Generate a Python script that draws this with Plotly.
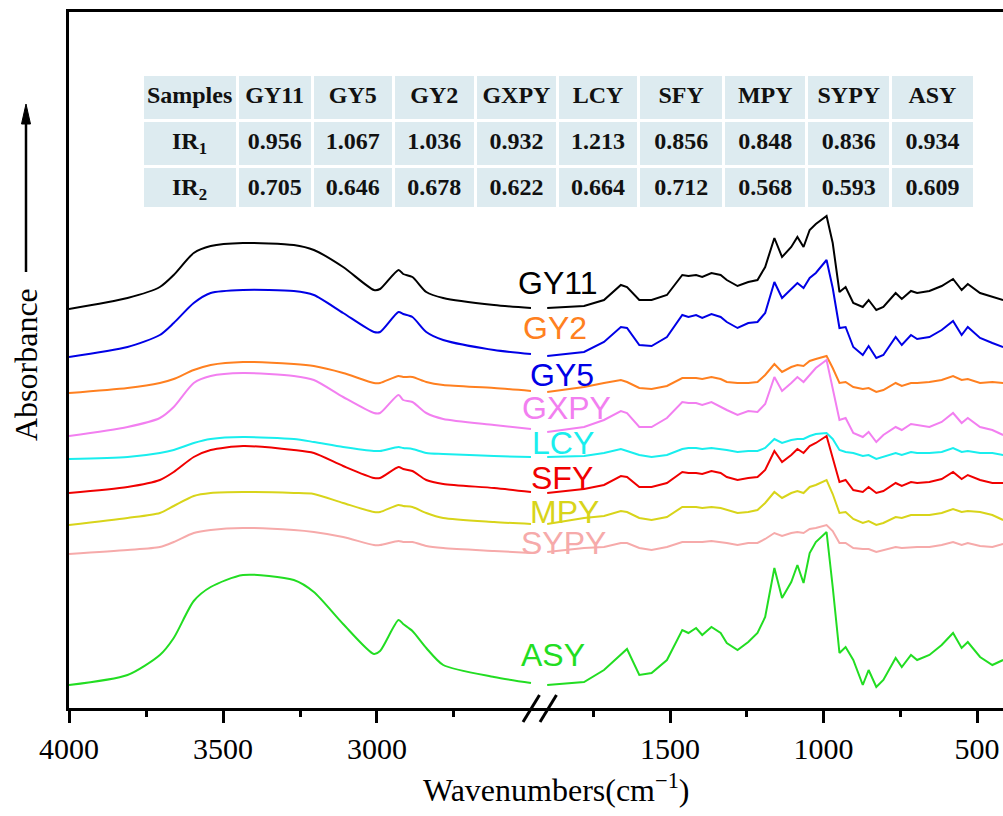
import plotly.graph_objects as go

# Wavenumber grids (cm-1) for the two sides of the broken axis
wn_high = [4000, 3810, 3705, 3660, 3595, 3540, 3435, 3270, 3205, 3110, 3010, 2990,
           2930, 2915, 2885, 2840, 2785, 2620, 2500]
wn_low = [1900, 1780, 1715, 1660, 1640, 1600, 1560, 1510, 1460, 1440, 1415, 1395,
          1365, 1335, 1315, 1280, 1245, 1215, 1190, 1160, 1135, 1105, 1085, 1065,
          1045, 1025, 990, 970, 948, 928, 903, 872, 853, 828, 805, 765, 745, 715,
          695, 655, 615, 578, 550, 530, 490, 450, 415]

# Stacked absorbance spectra (offset for display), high- and low-wavenumber parts
gy11_high = [3.99, 4.10, 4.21, 4.33, 4.55, 4.62, 4.65, 4.63, 4.58, 4.41, 4.18, 4.19,
             4.38, 4.34, 4.31, 4.16, 4.10, 4.03, 4.00]
gy11_low = [4.00, 4.02, 4.08, 4.23, 4.21, 4.08, 4.08, 4.13, 4.33, 4.32, 4.33, 4.31,
            4.35, 4.33, 4.28, 4.22, 4.26, 4.28, 4.41, 4.70, 4.51, 4.61, 4.71, 4.61,
            4.78, 4.84, 4.92, 4.65, 4.16, 4.21, 4.05, 4.01, 4.08, 3.98, 4.01, 4.15,
            4.09, 4.17, 4.15, 4.17, 4.22, 4.29, 4.18, 4.24, 4.15, 4.11, 4.08]

gy5_high = [3.51, 3.61, 3.73, 3.85, 4.05, 4.15, 4.18, 4.17, 4.13, 3.95, 3.76, 3.76,
            3.96, 3.94, 3.91, 3.76, 3.68, 3.58, 3.54]
gy5_low = [3.52, 3.56, 3.66, 3.81, 3.80, 3.63, 3.62, 3.71, 3.93, 3.91, 3.93, 3.90,
           3.94, 3.91, 3.86, 3.80, 3.85, 3.86, 3.95, 4.26, 4.10, 4.19, 4.25, 4.20,
           4.30, 4.35, 4.48, 4.20, 3.80, 3.81, 3.61, 3.53, 3.62, 3.50, 3.53, 3.71,
           3.63, 3.73, 3.69, 3.71, 3.78, 3.87, 3.73, 3.81, 3.70, 3.65, 3.61]

gy2_high = [3.15, 3.20, 3.25, 3.29, 3.38, 3.43, 3.46, 3.44, 3.42, 3.35, 3.25, 3.25,
            3.32, 3.31, 3.31, 3.26, 3.23, 3.20, 3.17]
gy2_low = [3.16, 3.21, 3.25, 3.28, 3.26, 3.20, 3.19, 3.22, 3.30, 3.30, 3.30, 3.29,
           3.31, 3.29, 3.26, 3.25, 3.25, 3.26, 3.33, 3.44, 3.36, 3.41, 3.43, 3.42,
           3.47, 3.49, 3.52, 3.40, 3.25, 3.26, 3.21, 3.19, 3.20, 3.16, 3.18, 3.25,
           3.22, 3.25, 3.25, 3.26, 3.28, 3.32, 3.28, 3.29, 3.25, 3.26, 3.25]

gxpy_high = [2.72, 2.81, 2.90, 3.01, 3.25, 3.32, 3.35, 3.32, 3.28, 3.11, 2.95, 2.95,
             3.13, 3.08, 3.06, 2.95, 2.89, 2.83, 2.79]
gxpy_low = [2.76, 2.81, 2.88, 2.97, 2.95, 2.81, 2.81, 2.90, 3.06, 3.05, 3.05, 3.03,
            3.06, 3.01, 2.98, 2.93, 2.97, 2.96, 3.04, 3.31, 3.17, 3.25, 3.31, 3.26,
            3.33, 3.40, 3.48, 3.21, 2.88, 2.90, 2.75, 2.71, 2.76, 2.66, 2.73, 2.81,
            2.78, 2.84, 2.83, 2.81, 2.86, 2.95, 2.85, 2.90, 2.81, 2.78, 2.73]

lcy_high = [2.49, 2.51, 2.55, 2.58, 2.65, 2.69, 2.71, 2.69, 2.66, 2.61, 2.57, 2.57,
            2.61, 2.60, 2.59, 2.55, 2.54, 2.52, 2.51]
lcy_low = [2.51, 2.52, 2.55, 2.59, 2.57, 2.53, 2.51, 2.53, 2.59, 2.60, 2.60, 2.59,
           2.60, 2.59, 2.58, 2.56, 2.57, 2.57, 2.60, 2.69, 2.65, 2.68, 2.69, 2.69,
           2.72, 2.74, 2.75, 2.69, 2.58, 2.56, 2.55, 2.52, 2.53, 2.49, 2.51, 2.55,
           2.53, 2.56, 2.55, 2.55, 2.56, 2.60, 2.56, 2.57, 2.55, 2.55, 2.53]

sfy_high = [2.15, 2.21, 2.28, 2.36, 2.51, 2.58, 2.62, 2.58, 2.55, 2.42, 2.30, 2.30,
            2.41, 2.39, 2.37, 2.28, 2.24, 2.20, 2.16]
sfy_low = [2.15, 2.19, 2.23, 2.32, 2.31, 2.21, 2.21, 2.25, 2.36, 2.35, 2.35, 2.34,
           2.37, 2.35, 2.31, 2.28, 2.30, 2.31, 2.38, 2.57, 2.46, 2.53, 2.59, 2.55,
           2.62, 2.65, 2.72, 2.51, 2.26, 2.28, 2.18, 2.16, 2.21, 2.15, 2.17, 2.25,
           2.22, 2.26, 2.25, 2.26, 2.29, 2.36, 2.29, 2.33, 2.28, 2.25, 2.25]

mpy_high = [1.83, 1.90, 1.95, 2.02, 2.12, 2.15, 2.16, 2.15, 2.14, 2.05, 1.96, 1.96,
            2.03, 2.02, 2.01, 1.95, 1.90, 1.86, 1.84]
mpy_low = [1.84, 1.90, 1.92, 1.97, 1.96, 1.90, 1.88, 1.91, 2.01, 2.01, 2.01, 2.00,
           2.01, 2.00, 1.98, 1.95, 1.96, 1.98, 2.05, 2.16, 2.10, 2.15, 2.17, 2.15,
           2.21, 2.23, 2.28, 2.14, 1.95, 1.96, 1.89, 1.85, 1.87, 1.83, 1.85, 1.91,
           1.90, 1.93, 1.93, 1.93, 1.95, 1.99, 1.96, 1.97, 1.96, 1.93, 1.88]

sypy_high = [1.54, 1.58, 1.61, 1.66, 1.75, 1.78, 1.80, 1.78, 1.76, 1.71, 1.63, 1.63,
             1.67, 1.66, 1.66, 1.62, 1.60, 1.57, 1.55]
sypy_low = [1.56, 1.60, 1.61, 1.65, 1.65, 1.60, 1.58, 1.61, 1.66, 1.66, 1.66, 1.66,
            1.67, 1.66, 1.65, 1.63, 1.65, 1.65, 1.69, 1.75, 1.72, 1.75, 1.76, 1.75,
            1.79, 1.80, 1.83, 1.77, 1.65, 1.65, 1.60, 1.59, 1.59, 1.56, 1.58, 1.61,
            1.60, 1.61, 1.61, 1.61, 1.63, 1.66, 1.63, 1.65, 1.62, 1.61, 1.64]

asy_high = [0.23, 0.33, 0.53, 0.70, 1.07, 1.21, 1.33, 1.28, 1.16, 0.84, 0.54, 0.57,
            0.88, 0.84, 0.77, 0.60, 0.43, 0.31, 0.25]
asy_low = [0.23, 0.26, 0.38, 0.54, 0.59, 0.33, 0.35, 0.48, 0.78, 0.75, 0.80, 0.73,
           0.81, 0.75, 0.65, 0.58, 0.66, 0.75, 0.91, 1.40, 1.10, 1.26, 1.43, 1.25,
           1.55, 1.66, 1.76, 1.21, 0.55, 0.61, 0.48, 0.23, 0.38, 0.21, 0.28, 0.50,
           0.41, 0.53, 0.48, 0.53, 0.63, 0.75, 0.60, 0.66, 0.51, 0.43, 0.48]

# Infrared index table
samples = ["GY11", "GY5", "GY2", "GXPY", "LCY", "SFY", "MPY", "SYPY", "ASY"]
ir1 = [0.956, 1.067, 1.036, 0.932, 1.213, 0.856, 0.848, 0.836, 0.934]
ir2 = [0.705, 0.646, 0.678, 0.622, 0.664, 0.712, 0.568, 0.593, 0.609]

# Curve labels drawn beside the axis break
label_names = ["GY11", "GY2", "GY5", "GXPY", "LCY", "SFY", "MPY", "SYPY", "ASY"]

series = [
    ("GY11", gy11_high, gy11_low, "#000000"),
    ("GY5", gy5_high, gy5_low, "#0000E6"),
    ("GY2", gy2_high, gy2_low, "#FF8020"),
    ("GXPY", gxpy_high, gxpy_low, "#F27FF0"),
    ("LCY", lcy_high, lcy_low, "#19EEEE"),
    ("SFY", sfy_high, sfy_low, "#F00000"),
    ("MPY", mpy_high, mpy_low, "#D8D41A"),
    ("SYPY", sypy_high, sypy_low, "#F6AAAA"),
    ("ASY", asy_high, asy_low, "#22DD22"),
]
color_of = {name: c for name, _, _, c in series}

# ---- geometry (pixels) ----
W, H = 1003, 816
ML, MT, MB = 69, 12, 108
PW, PH = W - ML, H - MT - MB
AXIS_Y = H - MB


def px(xp):
    return (xp - ML) / PW


def py(yp):
    return (AXIS_Y - yp) / PH


brk = px(539)

fig = go.Figure()

for name, hi, lo, col in series:
    fig.add_trace(go.Scatter(x=wn_high, y=hi, mode="lines", xaxis="x", yaxis="y",
                             line=dict(color=col, width=2, shape="spline", smoothing=0.7),
                             showlegend=False, hoverinfo="skip"))
    fig.add_trace(go.Scatter(x=wn_low, y=lo, mode="lines", xaxis="x2", yaxis="y",
                             line=dict(color=col, width=2),
                             showlegend=False, hoverinfo="skip"))

# Table of IR indices
fig.add_trace(go.Table(
    domain=dict(x=[px(142), px(974)], y=[py(207), py(74)]),
    columnwidth=[95, 75, 81, 82, 82, 81, 85, 83, 84, 83],
    header=dict(
        values=["<b>Samples</b>"] + [f"<b>{s}</b>" for s in samples],
        fill_color="#DDEBF0", line=dict(color="white", width=3),
        font=dict(family="Liberation Serif", size=24, color="#111111"),
        align="center", height=46),
    cells=dict(
        values=[["<b>IR<sub>1</sub></b>", "<b>IR<sub>2</sub></b>"]]
               + [[f"<b>{a:.3f}</b>", f"<b>{b:.3f}</b>"] for a, b in zip(ir1, ir2)],
        fill_color="#DDEBF0", line=dict(color="white", width=3),
        font=dict(family="Liberation Serif", size=24, color="#111111"),
        align="center", height=42),
))

tickfont = dict(family="Liberation Serif", size=30, color="black")
common_x = dict(showline=True, linecolor="black", linewidth=3, mirror=True,
                ticks="outside", ticklen=12, tickwidth=3, tickcolor="black",
                showgrid=False, zeroline=False, tickfont=tickfont, anchor="y")

fig.update_layout(
    width=W, height=H,
    margin=dict(l=ML, r=0, t=MT, b=MB),
    paper_bgcolor="white", plot_bgcolor="white",
    xaxis=dict(domain=[0, brk], range=[4000, 2474],
               tickvals=[4000, 3500, 3000], ticktext=["4000", "3500", "3000"],
               minor=dict(tickvals=[3750, 3250, 2750], ticks="outside", ticklen=6,
                          tickwidth=3, tickcolor="black"),
               **common_x),
    xaxis2=dict(domain=[brk, 1], range=[1926.7, 415.3],
                tickvals=[1500, 1000, 500], ticktext=["1500", "1000", "500"],
                minor=dict(tickvals=[1750, 1250, 750], ticks="outside", ticklen=6,
                           tickwidth=3, tickcolor="black"),
                **common_x),
    yaxis=dict(range=[0, 6.96], showline=True, linecolor="black", linewidth=3,
               showticklabels=False, ticks="", showgrid=False, zeroline=False),
)

# Axis break marks
for x0 in (523, 540):
    fig.add_shape(type="line", xref="paper", yref="paper",
                  x0=px(x0), y0=py(722), x1=px(x0 + 16.5), y1=py(695),
                  line=dict(color="black", width=3))

# Vertical "Absorbance" title with upward arrow
fig.add_shape(type="line", xref="paper", yref="paper",
              x0=px(26), y0=py(272), x1=px(26), y1=py(120),
              line=dict(color="black", width=2.5))
fig.add_shape(type="path", xref="paper", yref="paper",
              path=f"M {px(21.5)} {py(124)} L {px(26)} {py(104)} L {px(30.5)} {py(124)} Z",
              fillcolor="black", line=dict(color="black", width=1))
fig.add_annotation(text="Absorbance", xref="paper", yref="paper",
                   x=px(26), y=py(365), xanchor="center", yanchor="middle",
                   textangle=-90, showarrow=False,
                   font=dict(family="Liberation Serif", size=32, color="black"))

fig.add_annotation(text="Wavenumbers(cm<sup>\u22121</sup>)", xref="paper", yref="paper",
                   x=px(556), y=py(766), xanchor="center", yanchor="top",
                   showarrow=False,
                   font=dict(family="Liberation Serif", size=32, color="black"))

# Sample labels next to the break
label_pos = {
    "GY11": (557, 283), "GY2": (555, 328), "GY5": (562, 375), "GXPY": (566, 408),
    "LCY": (563, 443), "SFY": (562, 478), "MPY": (564, 512), "SYPY": (563, 543),
    "ASY": (553, 655),
}
for name in label_names:
    xp, yp = label_pos[name]
    fig.add_annotation(text=name, xref="paper", yref="paper", x=px(xp), y=py(yp),
                       xanchor="center", yanchor="middle", showarrow=False,
                       font=dict(family="Liberation Sans", size=32, color=color_of[name]))

fig.write_html("out.html")
